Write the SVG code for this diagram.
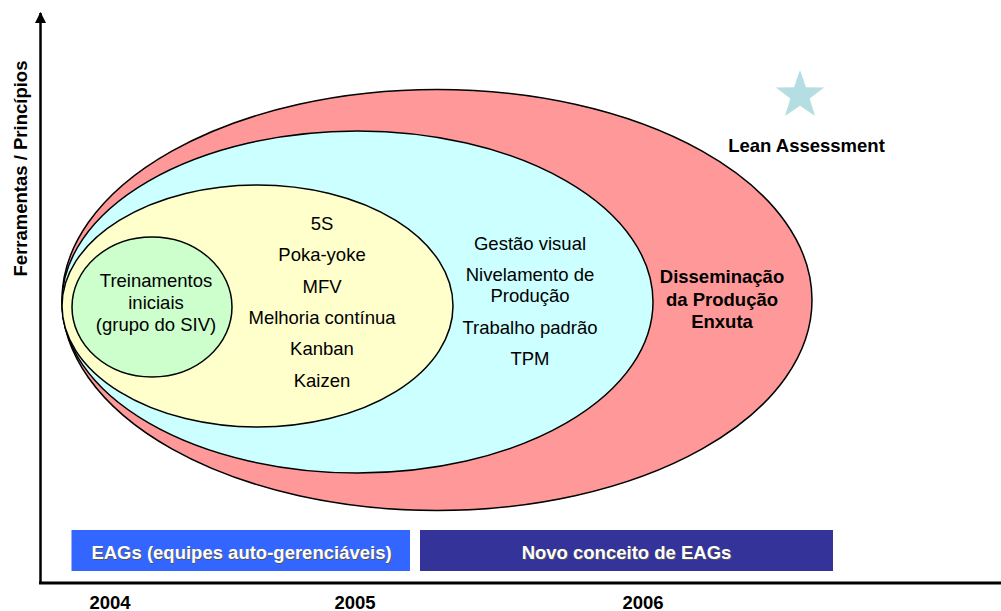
<svg xmlns="http://www.w3.org/2000/svg" width="1001" height="611" viewBox="0 0 1001 611">
<defs>
<style>
.e{stroke:#000;stroke-width:1.5}
.t{font-family:"Liberation Sans",Arial,sans-serif;font-size:18.5px;fill:#000;text-anchor:middle}
.b{font-weight:bold}
.w{fill:#fff}
.sh{fill:#555}
</style>
<marker id="arr" viewBox="0 0 10 10" refX="9" refY="5" markerWidth="11" markerHeight="11" markerUnits="userSpaceOnUse" orient="auto">
<path d="M0,0 L10,5 L0,10 Z" fill="#000"/>
</marker>
</defs>
<rect width="1001" height="611" fill="#fff"/>
<g id="axes">
<line x1="40.5" y1="583" x2="40.5" y2="13" stroke="#000" stroke-width="2.5" marker-end="url(#arr)"/>
<line x1="39" y1="583" x2="1001" y2="583" stroke="#000" stroke-width="3"/>
<text class="t b" transform="translate(27,168.5) rotate(-90)">Ferramentas / Princípios</text>
<text class="t b" x="110" y="609">2004</text>
<text class="t b" x="355" y="609">2005</text>
<text class="t b" x="643" y="609">2006</text>
</g>
<g id="disseminacao">
<ellipse class="e" cx="437" cy="300" rx="375" ry="210.5" fill="#FF9999"/>
<text class="t b" x="722" y="283">Disseminação</text>
<text class="t b" x="722" y="305.5">da Produção</text>
<text class="t b" x="722" y="327.5">Enxuta</text>
</g>
<g id="ferramentas2">
<ellipse class="e" cx="357.5" cy="302" rx="295.5" ry="171" fill="#CCFFFF"/>
<text class="t" x="530" y="249.5">Gestão visual</text>
<text class="t" x="530" y="280.5">Nivelamento de</text>
<text class="t" x="530" y="301.5">Produção</text>
<text class="t" x="530" y="333.5">Trabalho padrão</text>
<text class="t" x="530" y="365">TPM</text>
</g>
<g id="ferramentas1">
<ellipse class="e" cx="257.5" cy="306" rx="195.5" ry="121" fill="#FFFFCC"/>
<text class="t" x="322" y="229.5">5S</text>
<text class="t" x="322" y="261">Poka-yoke</text>
<text class="t" x="322" y="292.5">MFV</text>
<text class="t" x="322" y="324">Melhoria contínua</text>
<text class="t" x="322" y="355">Kanban</text>
<text class="t" x="322" y="386.5">Kaizen</text>
</g>
<g id="treinamentos">
<ellipse class="e" cx="152" cy="307" rx="80" ry="70" fill="#CCFFCC"/>
<text class="t" x="156" y="286.5">Treinamentos</text>
<text class="t" x="156" y="308.5">iniciais</text>
<text class="t" x="156" y="331">(grupo do SIV)</text>
</g>
<g id="lean">
<polygon points="800,70 806,87.2 824.2,87.6 809.7,98.6 815,116.1 800,105.7 785,116.1 790.3,98.6 775.8,87.6 794,87.2" fill="#B5DEE2"/>
<text class="t b" x="806.5" y="152">Lean Assessment</text>
</g>
<g id="eags">
<rect x="71.5" y="530" width="338.5" height="41" fill="#3366FF"/>
<text class="t b sh" x="242.5" y="560">EAGs (equipes auto-gerenciáveis)</text>
<text class="t b w" x="241.5" y="559">EAGs (equipes auto-gerenciáveis)</text>
</g>
<g id="novo">
<rect x="420" y="530" width="413" height="41" fill="#333399"/>
<text class="t b sh" x="627.5" y="560">Novo conceito de EAGs</text>
<text class="t b w" x="626.5" y="559">Novo conceito de EAGs</text>
</g>
</svg>
